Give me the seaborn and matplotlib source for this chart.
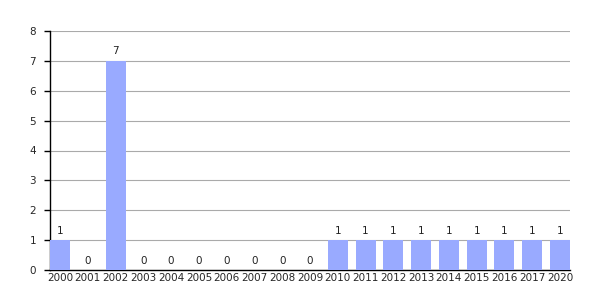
import matplotlib
matplotlib.use("Agg")
import matplotlib.pyplot as plt
import seaborn as sns
import pandas as pd

years = ["2000", "2001", "2002", "2003", "2004", "2005", "2006", "2007", "2008",
         "2009", "2010", "2011", "2012", "2013", "2014", "2015", "2016", "2017", "2020"]
counts = [1, 0, 7, 0, 0, 0, 0, 0, 0, 0, 1, 1, 1, 1, 1, 1, 1, 1, 1]
yticks = [0, 1, 2, 3, 4, 5, 6, 7, 8]

sns.set_style("white")
plt.rcParams['font.family'] = ['DejaVu Sans']

df = pd.DataFrame({"year": years, "count": counts})
fig = plt.figure(figsize=(6, 3), dpi=100)
ax = fig.add_axes([50/600, 30/300, 520/600, 239/300])
sns.barplot(data=df, x="year", y="count", color="#99aaff", saturation=1,
            width=0.72, ax=ax, zorder=3, linewidth=0, edgecolor="none")
ax.set_xlim(-0.36, len(years) - 1 + 0.36)
ax.set_ylim(0, 8)
ax.set_yticks(yticks)
ax.yaxis.grid(True, color="#aaaaaa", linewidth=0.8, zorder=0)
ax.set_axisbelow(True)
for s in ["top", "right"]:
    ax.spines[s].set_visible(False)
for s in ["left", "bottom"]:
    ax.spines[s].set_color("black")
    ax.spines[s].set_linewidth(1)
ax.tick_params(axis="y", length=4, width=1, color="black", labelsize=7.5, pad=6, left=True)
ax.tick_params(axis="x", length=0, labelsize=7.5, pad=2)
ax.set_xlabel("")
ax.set_ylabel("")
for i, v in enumerate(counts):
    ax.text(i, v + 0.15, str(v), ha="center", va="bottom", fontsize=7.5, color="#222222")
fig.savefig("out.png", dpi=100)
